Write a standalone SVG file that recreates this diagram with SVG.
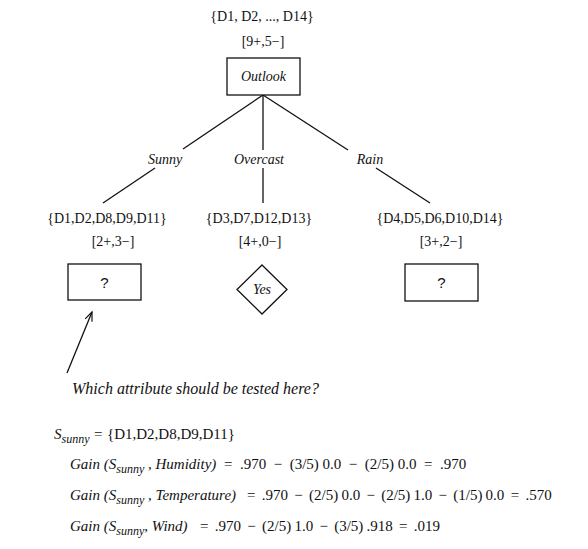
<svg xmlns="http://www.w3.org/2000/svg" width="588" height="549" viewBox="0 0 588 549">
<style>
  text { font-family: "Liberation Serif", "Times New Roman", serif; fill: #111; }
  .lbl { font-size: 14px; text-anchor: middle; }
  .it { font-style: italic; }
  .q { font-family: "Liberation Sans", Arial, sans-serif; font-size: 15px; text-anchor: middle; }
  .box { fill: #fff; stroke: #111; stroke-width: 1.3; }
  .edge { stroke: #111; stroke-width: 1.3; fill: none; }
  .eq { font-size: 15px; }
  .sub { font-size: 12px; font-style: italic; }
  .tight { word-spacing: -0.6px; }
</style>
<defs>
  <marker id="openArrow" markerUnits="userSpaceOnUse" markerWidth="14" markerHeight="12" refX="10" refY="6" orient="auto">
    <path d="M1,2.3 L10,6 L1,9.7" fill="none" stroke="#111" stroke-width="1.2"/>
  </marker>
</defs>
<rect width="588" height="549" fill="#fff"/>

<g id="connectors">
  <line class="edge" x1="263" y1="95" x2="183" y2="149"/>
  <line class="edge" x1="155" y1="168" x2="103" y2="203"/>
  <line class="edge" x1="263" y1="95" x2="263" y2="150"/>
  <line class="edge" x1="263" y1="168" x2="263" y2="203"/>
  <line class="edge" x1="263" y1="95" x2="348" y2="150"/>
  <line class="edge" x1="376" y1="168" x2="430" y2="203"/>
  <text class="lbl it" x="165" y="164">Sunny</text>
  <text class="lbl it" x="259" y="164">Overcast</text>
  <text class="lbl it" x="370" y="164">Rain</text>
  <line class="edge" x1="67" y1="373" x2="92" y2="312" marker-end="url(#openArrow)"/>
</g>

<g id="root">
  <text class="lbl" x="262" y="21">{D1, D2, ..., D14}</text>
  <text class="lbl" x="263" y="46">[9+,5−]</text>
  <rect class="box" x="227" y="58" width="73" height="37"/>
  <text class="lbl it" x="263.5" y="81">Outlook</text>
</g>

<g id="sunny-node">
  <text class="lbl" x="107" y="223">{D1,D2,D8,D9,D11}</text>
  <text class="lbl" x="113" y="246">[2+,3−]</text>
  <rect class="box" x="68" y="264" width="73" height="36"/>
  <text class="q" x="104.5" y="288">?</text>
</g>

<g id="overcast-node">
  <text class="lbl" x="259" y="223">{D3,D7,D12,D13}</text>
  <text class="lbl" x="260" y="246">[4+,0−]</text>
  <polygon class="box" points="262,265 287,289.5 262,314 237,289.5"/>
  <text class="lbl it" x="262" y="294">Yes</text>
</g>

<g id="rain-node">
  <text class="lbl" x="440" y="223">{D4,D5,D6,D10,D14}</text>
  <text class="lbl" x="441" y="246">[3+,2−]</text>
  <rect class="box" x="405" y="264" width="73" height="37"/>
  <text class="q" x="441.5" y="288">?</text>
</g>

<g id="question">
  <text class="it" x="72" y="394" font-size="16">Which attribute should be tested here?</text>
</g>

<g id="equations">
  <text class="eq" x="54" y="439" xml:space="preserve"><tspan class="it">S</tspan><tspan class="sub" dy="4">sunny</tspan><tspan x="94" dy="-4">=</tspan><tspan x="107">{D1,D2,D8,D9,D11}</tspan></text>
  <text class="eq" x="70" y="469" xml:space="preserve"><tspan class="it">Gain (S</tspan><tspan class="sub" dy="4">sunny</tspan><tspan class="it" dy="-4"> , Humidity)</tspan><tspan x="224">=  .970  −  (3/5) 0.0  −  (2/5) 0.0  =  .970</tspan></text>
  <text class="eq" x="70" y="500" xml:space="preserve"><tspan class="it">Gain (S</tspan><tspan class="sub" dy="4">sunny</tspan><tspan class="it" dy="-4"> , Temperature)</tspan><tspan class="tight" x="247">=  .970  −  (2/5) 0.0  −  (2/5) 1.0  −  (1/5) 0.0  =  .570</tspan></text>
  <text class="eq" x="70" y="531" xml:space="preserve"><tspan class="it">Gain (S</tspan><tspan class="sub" dy="4">sunny</tspan><tspan class="it" dy="-4">, Wind)</tspan><tspan class="tight" x="200">=  .970  −  (2/5) 1.0  −  (3/5) .918  =  .019</tspan></text>
</g>
</svg>
